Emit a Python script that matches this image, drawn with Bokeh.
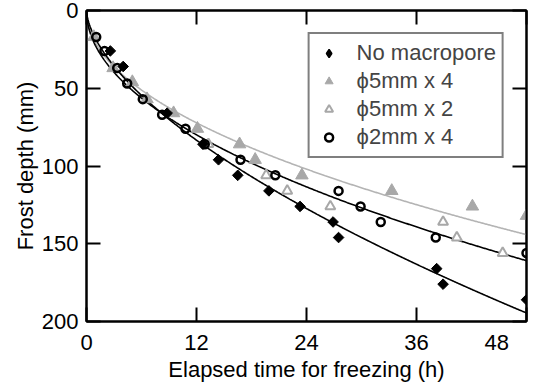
import numpy as np
from bokeh.plotting import figure
from bokeh.models import (Range1d, LinearAxis, FixedTicker, CustomJSTickFormatter,
                          Legend, LegendItem)
from bokeh.embed import file_html
from bokeh.resources import INLINE

FONT = "Liberation Sans"

x_ticks = [0, 12, 24, 36, 48]
y_ticks = [0, 50, 100, 150, 200]

# No macropore (filled diamonds)
t_none = [2.6, 4.0, 8.8, 12.7, 14.4, 16.5, 19.9, 23.3, 26.9, 27.5, 38.2, 38.9, 48.0]
d_none = [26, 36, 66, 86, 96, 106, 116, 126, 136, 146, 166, 176, 186]

# phi5mm x 4 (filled grey triangles)
t_p5x4 = [0.8, 2.9, 5.0, 6.6, 9.5, 12.1, 16.7, 18.4, 23.5, 33.3, 42.1, 48.0]
d_p5x4 = [17, 37, 46, 57, 66, 76, 86, 96, 106, 116, 126, 132]

# phi5mm x 2 (open grey triangles)
t_p5x2 = [13.3, 19.6, 21.9, 26.6, 38.9, 40.4, 45.4]
d_p5x2 = [86, 106, 116, 126, 136, 146, 156]

# phi2mm x 4 (open circles)
t_p2x4 = [1.06, 1.96, 3.35, 4.44, 6.14, 8.25, 10.8, 12.9, 16.8, 20.6, 27.5, 29.9, 32.1, 38.1, 48.0]
d_p2x4 = [17, 26, 37, 47, 57, 67, 76, 86, 96, 106, 116, 126, 136, 146, 156]

labels = ["No macropore", "\u03d55mm x 4", "\u03d55mm x 2", "\u03d52mm x 4"]


def power_fit_lin(t, d):
    """least squares fit of d = a * t**b (residuals in linear space)"""
    t = np.asarray(t, float)
    d = np.asarray(d, float)
    best = None
    for b in np.linspace(0.2, 1.0, 1601):
        tb = t ** b
        a = np.sum(d * tb) / np.sum(tb * tb)
        sse = np.sum((d - a * tb) ** 2)
        if best is None or sse < best[0]:
            best = (sse, a, b)
    return best[1], best[2]


def power_fit_log(t, d):
    """power trend line d = a * t**b fitted on log-log axes"""
    b, la = np.polyfit(np.log(t), np.log(d), 1)
    return np.exp(la), b


tt = np.linspace(0.0, 48, 600)
a1, b1 = power_fit_lin(t_none, d_none)
a2, b2 = power_fit_lin(t_p2x4 + t_p5x2, d_p2x4 + d_p5x2)
a3, b3 = power_fit_log(t_p5x4, d_p5x4)

p = figure(width=533, height=384, x_range=Range1d(0, 48), y_range=Range1d(200, 0),
           output_backend="svg", toolbar_location=None,
           min_border_left=86, min_border_right=7, min_border_top=10, min_border_bottom=61)
p.xgrid.visible = False
p.ygrid.visible = False
p.outline_line_color = "black"
p.outline_line_width = 2
p.background_fill_color = "white"
p.border_fill_color = "white"

for ax, tk in ((p.xaxis[0], x_ticks), (p.yaxis[0], y_ticks)):
    ax.ticker = FixedTicker(ticks=tk)
    ax.minor_tick_line_color = None
    ax.major_tick_in = 14
    ax.major_tick_out = 0
    ax.major_tick_line_width = 2
    ax.axis_line_width = 2
    ax.major_label_text_font = FONT
    ax.major_label_text_font_size = "22px"
    ax.major_label_text_color = "black"
    ax.axis_label_text_font = FONT
    ax.axis_label_text_font_size = "22px"
    ax.axis_label_text_font_style = "normal"
    ax.axis_label_text_color = "black"

p.xaxis[0].axis_label = "Elapsed time for freezing (h)"
p.xaxis[0].major_label_standoff = 8
p.xaxis[0].axis_label_standoff = -1
# last label kept inside the page, as in the original figure
p.xaxis[0].major_label_overrides = {48: "48    "}
p.yaxis[0].axis_label = "Frost depth (mm)"
p.yaxis[0].major_label_standoff = 8
p.yaxis[0].axis_label_standoff = 1

blank = CustomJSTickFormatter(code="return ''")
for loc, tk in (("above", x_ticks), ("right", y_ticks)):
    ax = LinearAxis(ticker=FixedTicker(ticks=tk), formatter=blank)
    ax.minor_tick_line_color = None
    ax.major_tick_in = 14
    ax.major_tick_out = 0
    ax.major_tick_line_width = 2
    ax.axis_line_width = 2
    ax.major_label_standoff = 0
    p.add_layout(ax, loc)

p.line(tt, a3 * tt ** b3, line_color="#b4b4b4", line_width=1.6)
p.line(tt, a2 * tt ** b2, line_color="black", line_width=1.6)
p.line(tt, a1 * tt ** b1, line_color="black", line_width=1.6)

r_tri = p.scatter(t_p5x4, d_p5x4, marker="triangle", size=12.5, fill_color="#a8a8a8",
                  line_color="#a8a8a8", line_width=1)
r_otri = p.scatter(t_p5x2, d_p5x2, marker="triangle", size=10, fill_color="white",
                   line_color="#a8a8a8", line_width=2)
p.scatter(t_none, d_none, marker="square", angle=np.pi / 4, size=7.5,
          fill_color="black", line_color="black", line_width=1)
r_circ = p.scatter(t_p2x4, d_p2x4, marker="circle", size=8, fill_color=None,
                   line_color="black", line_width=2.5)
# legend-only glyph for the diamonds (legend glyphs are drawn unrotated)
r_dia_leg = p.scatter([np.nan], [np.nan], marker="diamond", size=11,
                      fill_color="black", line_color="black", line_width=1.5)

legend = Legend(items=[LegendItem(label=labels[0], renderers=[r_dia_leg]),
                       LegendItem(label=labels[1], renderers=[r_tri]),
                       LegendItem(label=labels[2], renderers=[r_otri]),
                       LegendItem(label=labels[3], renderers=[r_circ])],
                location="top_right")
legend.margin = 22
legend.border_line_color = "black"
legend.border_line_width = 2
legend.background_fill_color = "white"
legend.background_fill_alpha = 1
legend.label_text_font = FONT
legend.label_text_font_size = "22px"
legend.glyph_width = 26
legend.glyph_height = 20
legend.label_height = 20
legend.label_width = 130
legend.spacing = 2
legend.padding = 6
legend.label_standoff = 15
p.add_layout(legend)

open("out.html", "w").write(file_html(p, INLINE))
